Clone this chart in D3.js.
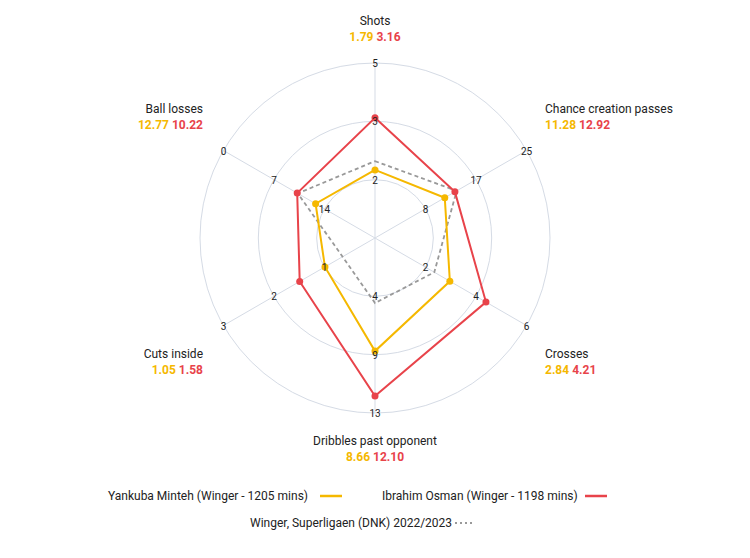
<!DOCTYPE html><html><head><meta charset="utf-8">
<script src="https://cdn.jsdelivr.net/npm/d3@7"></script>
<style>body{margin:0;background:#fff}svg{font-family:Roboto,"Open Sans",sans-serif}</style></head><body>
<svg id="c" width="750" height="558"></svg>
<script>
const categories=["Shots","Chance creation passes","Crosses","Dribbles past opponent","Cuts inside","Ball losses"];
const axisMin=[0,0,0,0,0,21];
const axisMax=[4.6,24.5,5.75,13.4,3.18,0];
const tickLabels=[["2","3","5"],["8","17","25"],["2","4","6"],["4","9","13"],["1","2","3"],["14","7","0"]];
const minteh=[1.79,11.28,2.84,8.66,1.05,12.77];
const osman=[3.16,12.92,4.21,12.10,1.58,10.22];
const average=[2.02,13.2,2.25,4.98,0.68,10.3];
const seriesNames=["Yankuba Minteh (Winger - 1205 mins)","Ibrahim Osman (Winger - 1198 mins)","Winger, Superligaen (DNK) 2022/2023"];
const YEL="#f5b800",RED="#e8434a",GRY="#999";
const svg=d3.select("#c"),cx=375,cy=238,R=175;
const g=svg.append("g").attr("transform",`translate(${cx},${cy})`);
const scales=categories.map((c,i)=>d3.scaleLinear().domain([axisMin[i],axisMax[i]]).range([0,R]));
const ang=i=>-Math.PI/2+i*Math.PI/3;
const pt=(i,v)=>{const r=scales[i](v),a=ang(i);return [r*Math.cos(a),r*Math.sin(a)];};
[1/3,2/3,1].forEach(f=>g.append("circle").attr("r",R*f).attr("fill","none").attr("stroke","#d5dbe5"));
categories.forEach((c,i)=>{const a=ang(i);g.append("line").attr("x2",R*Math.cos(a)).attr("y2",R*Math.sin(a)).attr("stroke","#d5dbe5");});
function poly(vals,col,dash){
 const line=d3.line().curve(d3.curveLinearClosed);
 g.append("path").attr("d",line(vals.map((v,i)=>pt(i,v)))).attr("fill","none").attr("stroke",col).attr("stroke-width",dash?1.8:2).attr("stroke-dasharray",dash?"4,3":null);
 if(!dash)vals.forEach((v,i)=>{const p=pt(i,v);g.append("circle").attr("cx",p[0]).attr("cy",p[1]).attr("r",3.5).attr("fill",col);});
}
poly(average,GRY,true);poly(minteh,YEL);poly(osman,RED);
categories.forEach((c,i)=>{const a=ang(i);tickLabels[i].forEach((t,k)=>{const r=R*(k+1)/3;
 g.append("text").attr("x",r*Math.cos(a)).attr("y",r*Math.sin(a)+4).attr("text-anchor","middle").attr("font-size",10).attr("fill","#222").text(t);});});
const labPos=[[375,25,"middle"],[545,113,"start"],[545,358,"start"],[375,445,"middle"],[203,358,"end"],[203,113,"end"]];
categories.forEach((c,i)=>{const [x,y,an]=labPos[i];
 svg.append("text").attr("x",x).attr("y",y).attr("text-anchor",an).attr("font-size",12).attr("fill","#222").text(c);
 const t=svg.append("text").attr("x",x).attr("y",y+16).attr("text-anchor",an).attr("font-size",12).attr("font-weight","bold");
 t.append("tspan").attr("fill",YEL).text(minteh[i].toFixed(2)+" ");
 t.append("tspan").attr("fill",RED).text(osman[i].toFixed(2));});
const leg=[[108,500,320,YEL,null],[382,500,585,RED,null],[250,527,455,GRY,"2,3"]];
leg.forEach(([x,y,lx,col,d],i)=>{
 svg.append("text").attr("x",x).attr("y",y).attr("font-size",12).attr("fill","#222").text(seriesNames[i]);
 svg.append("line").attr("x1",lx).attr("x2",lx+(d?17:22)).attr("y1",y-4).attr("y2",y-4).attr("stroke",col).attr("stroke-width",d?2:2.5).attr("stroke-dasharray",d);});
</script></body></html>
